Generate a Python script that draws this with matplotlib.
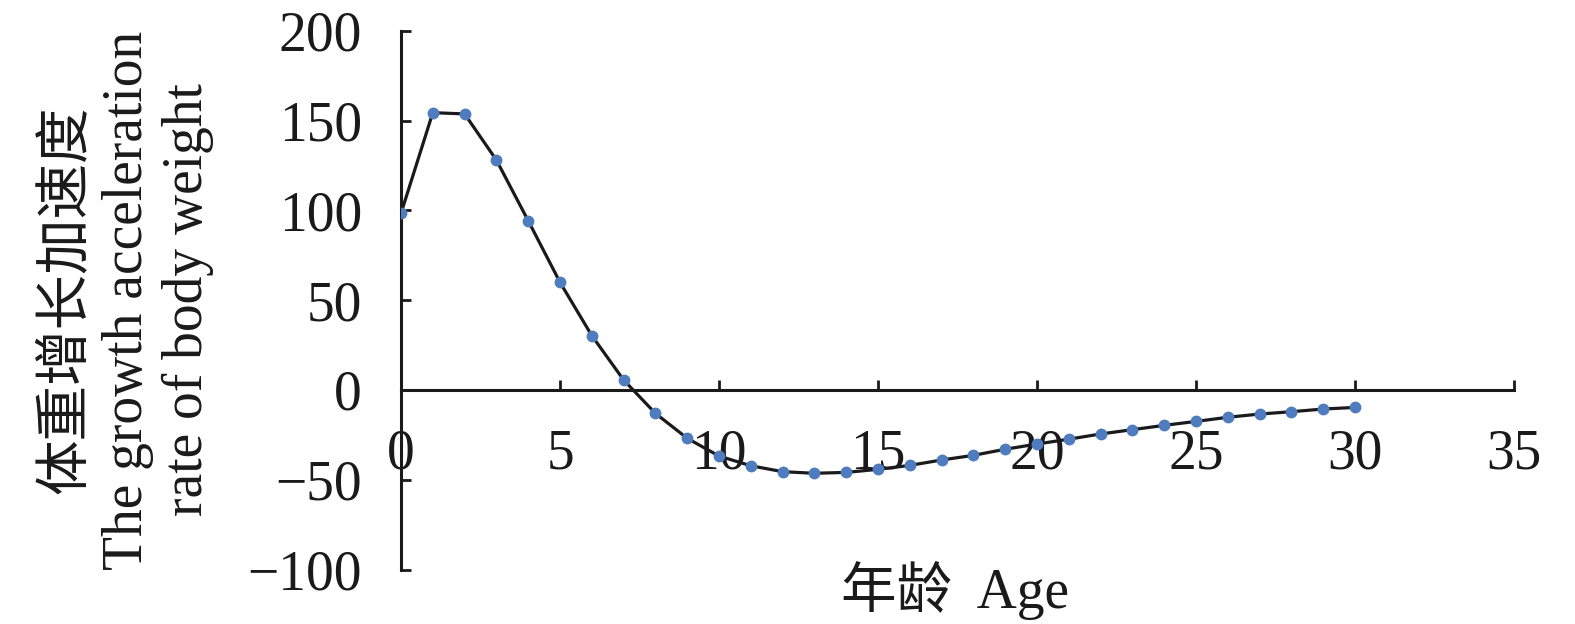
import matplotlib
matplotlib.use("Agg")
import matplotlib.pyplot as plt

plt.rcParams['font.family'] = ['Liberation Serif', 'Noto Sans CJK SC', 'DejaVu Sans']
plt.rcParams['axes.unicode_minus'] = True

age = list(range(0, 31))
accel = [98.4, 154.5, 153.8, 128.1, 94.3, 60.0, 30.3, 5.6, -13.0, -26.9,
         -36.8, -42.2, -45.5, -46.4, -45.9, -44.2, -42.0, -39.0, -36.4, -33.0,
         -30.1, -27.4, -24.5, -22.1, -19.7, -17.5, -15.2, -13.4, -12.1, -10.6,
         -9.7]
xticks = [0, 5, 10, 15, 20, 25, 30, 35]
yticks = [-100, -50, 0, 50, 100, 150, 200]
ylabel = "体重增长加速度\nThe growth acceleration\nrate of body weight"
xlabel = "年龄  Age"

W, H = 1575, 624
fig = plt.figure(figsize=(W / 100, H / 100), dpi=100)
ax = fig.add_axes([401 / W, (H - 569.5) / H, (1514 - 401) / W, (569.5 - 31) / H])

ax.plot(age, accel, color='#1a1a1a', lw=2.3, zorder=2)
ax.plot(age, accel, ls='none', marker='o', ms=7.5, color='#4f7cbf', zorder=3)

ax.set_xlim(0, 35)
ax.set_ylim(-100, 200)
ax.set_xticks(xticks)
ax.set_yticks(yticks)
ax.set_yticklabels([str(v).replace('-', '\u2212') for v in yticks])

for s in ['top', 'right']:
    ax.spines[s].set_visible(False)
ax.spines['bottom'].set_position(('data', 0))
for s in ['bottom', 'left']:
    ax.spines[s].set_linewidth(2.2)
    ax.spines[s].set_color('#1a1a1a')

ax.tick_params(axis='both', direction='in', length=7, width=2.0, color='#1a1a1a',
               labelsize=40, labelcolor='#1a1a1a', pad=28)

fig.text(128 / W, 1 - 300 / H, ylabel, rotation=90, ha='center', va='center',
         multialignment='center', fontsize=40, linespacing=1.2, color='#1a1a1a')
fig.text(955 / W, 1 - 590 / H, xlabel, ha='center', va='center', fontsize=40,
         color='#1a1a1a')

fig.savefig('out.png', dpi=100)
